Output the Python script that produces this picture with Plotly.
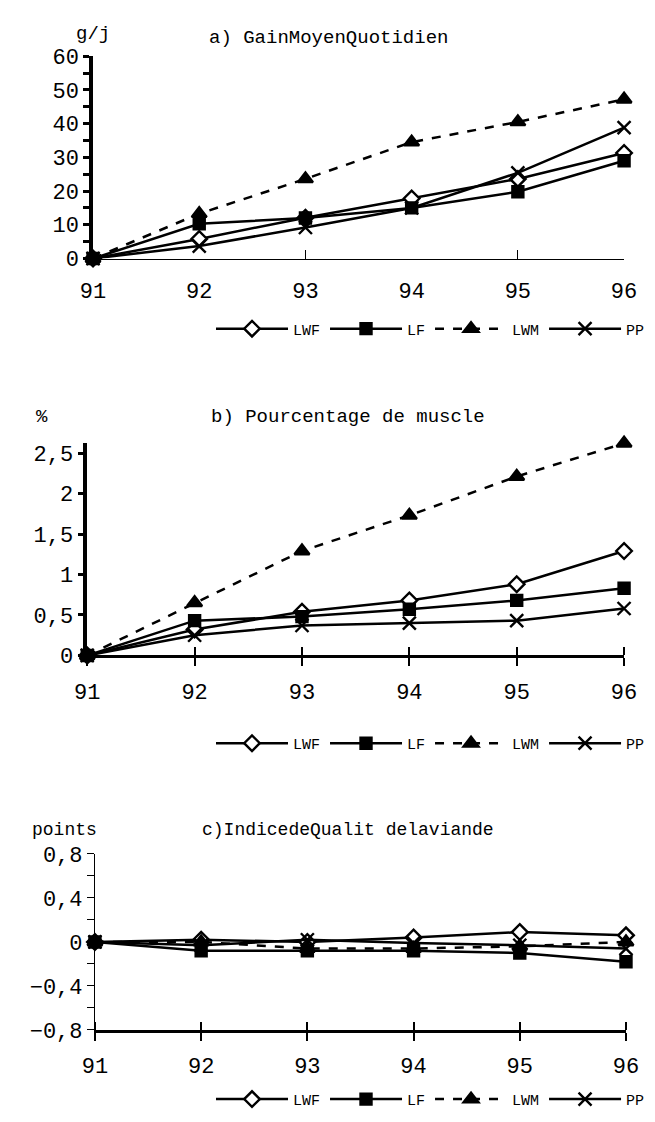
import plotly.graph_objects as go

# ---------------- data ----------------
years = [91, 92, 93, 94, 95, 96]
series_names = ["LWF", "LF", "LWM", "PP"]

gmq_LWF = [0, 5.8, 12.1, 17.8, 23.6, 31.3]
gmq_LF = [0, 10.3, 12.0, 15.0, 19.8, 29.0]
gmq_LWM = [0, 13.3, 23.6, 34.5, 40.5, 47.2]
gmq_PP = [0, 3.7, 9.2, 15.0, 25.4, 38.8]

muscle_LWF = [0, 0.32, 0.54, 0.68, 0.88, 1.29]
muscle_LF = [0, 0.43, 0.48, 0.57, 0.68, 0.83]
muscle_LWM = [0, 0.65, 1.29, 1.73, 2.21, 2.62]
muscle_PP = [0, 0.25, 0.37, 0.40, 0.43, 0.58]

iqv_LWF = [0, 0.02, 0.0, 0.04, 0.09, 0.06]
iqv_LF = [0, -0.08, -0.08, -0.08, -0.10, -0.18]
iqv_LWM = [0, 0.0, -0.06, -0.06, -0.04, 0.0]
iqv_PP = [0, -0.03, 0.02, -0.01, -0.03, -0.06]

titles = ["a) GainMoyenQuotidien", "b) Pourcentage de muscle", "c)IndicedeQualit delaviande"]
units = ["g/j", "%", "points"]

# ---------------- layout helpers ----------------
W, H = 655, 1122
def px_x(p):
    return p / W
def px_y(p):
    return 1 - p / H

FONT_TICK = dict(family="Liberation Mono", size=22, color="black")
FONT_TITLE = dict(family="Liberation Mono", size=19, color="black")
FONT_LEG = dict(family="Liberation Mono", size=15, color="black")

styles = {
    "LWF": dict(symbol="diamond", color="white", size=12, dash="solid"),
    "LF": dict(symbol="square", color="black", size=11, dash="solid"),
    "LWM": dict(symbol="triangle-up", color="black", size=13, dash="dash"),
    "PP": dict(symbol="x-thin-open", color="black", size=13, dash="solid"),
}

panels = [
    ([gmq_LWF, gmq_LF, gmq_LWM, gmq_PP], "", "legend"),
    ([muscle_LWF, muscle_LF, muscle_LWM, muscle_PP], "2", "legend2"),
    ([iqv_LWF, iqv_LF, iqv_LWM, iqv_PP], "3", "legend3"),
]

fig = go.Figure()
for vals_list, ax, leg in panels:
    for name, vals in zip(series_names, vals_list):
        st = styles[name]
        fig.add_trace(go.Scatter(
            x=years, y=vals, name=name, mode="lines+markers",
            xaxis="x" + ax, yaxis="y" + ax, legend=leg,
            line=dict(color="black", width=2.5, dash=st["dash"]),
            marker=dict(symbol=st["symbol"], size=st["size"], color=st["color"],
                        line=dict(color="black", width=2.4)),
            cliponaxis=False,
        ))

common_x = dict(type="linear", range=[91, 96], tickvals=years, showgrid=False, zeroline=False,
                tickfont=FONT_TICK, color="black", showline=True, linecolor="black")
common_y = dict(showgrid=False, zeroline=False, tickfont=FONT_TICK, showline=True,
                linecolor="black", color="black")

fig.update_layout(
    width=W, height=H, margin=dict(l=0, r=0, t=0, b=0),
    paper_bgcolor="white", plot_bgcolor="white",
    separators=", ",
    showlegend=True,
    xaxis=dict(common_x, domain=[px_x(75), px_x(628)], anchor="y", linewidth=1,
               ticks="", minor=dict(tickvals=[93, 95], ticks="inside", ticklen=9, tickwidth=1,
                                    tickcolor="black"), ticklabelstandoff=12),
    yaxis=dict(common_y, domain=[px_y(246), px_y(39)], anchor="x", range=[0, 60], dtick=10,
               linewidth=3.5, ticks="outside", ticklen=6, tickwidth=3,
               minor=dict(dtick=5, ticks="outside", ticklen=6, tickwidth=3, tickcolor="black")),
    xaxis2=dict(common_x, domain=[px_x(69), px_x(628)], anchor="y2", linewidth=3,
                ticks="outside", ticklen=8, tickwidth=2,
                minor=dict(tickvals=years, ticks="inside", ticklen=8, tickwidth=2, tickcolor="black"),
                ticklabelstandoff=6),
    yaxis2=dict(common_y, domain=[px_y(652), px_y(435)], anchor="x2", range=[0, 2.62],
                tickvals=[0, 0.5, 1, 1.5, 2, 2.5],
                linewidth=3.5, ticks="outside", ticklen=6, tickwidth=3),
    xaxis3=dict(common_x, domain=[px_x(77), px_x(630)], anchor="y3", linewidth=3,
                ticks="outside", ticklen=8, tickwidth=2,
                minor=dict(tickvals=years, ticks="inside", ticklen=8, tickwidth=2, tickcolor="black"),
                ticklabelstandoff=6),
    yaxis3=dict(common_y, domain=[px_y(1035), px_y(855)], anchor="x3", range=[-0.8, 0.8], dtick=0.4,
                linewidth=1, ticks="outside", ticklen=7, tickwidth=1,
                minor=dict(dtick=0.2, ticks="outside", ticklen=7, tickwidth=1, tickcolor="black")),
)

leg_common = dict(orientation="h", font=FONT_LEG, bgcolor="rgba(0,0,0,0)", itemwidth=72,
                  xanchor="right", x=1.0, yanchor="middle", traceorder="normal",
                  itemclick=False, itemdoubleclick=False, tracegroupgap=0)
fig.update_layout(
    legend=dict(leg_common, y=px_y(318)),
    legend2=dict(leg_common, y=px_y(742)),
    legend3=dict(leg_common, y=px_y(1106)),
)

ann = []
title_y = [20, 408, 830]
unit_x = [75, 22, 45]
unit_y = [16, 408, 830]
title_x = [320, 340, 340]
title_size = [19, 19, 18]
for t, u, ty, ux, uy, tx, ts in zip(titles, units, title_y, unit_x, unit_y, title_x, title_size):
    ann.append(dict(text=t, x=px_x(tx), y=px_y(ty), xref="paper", yref="paper", showarrow=False,
                    font=dict(FONT_TITLE, size=ts), xanchor="center", yanchor="middle"))
    ann.append(dict(text=u, x=px_x(ux), y=px_y(uy), xref="paper", yref="paper", showarrow=False,
                    font=dict(FONT_TITLE, size=ts), xanchor="center", yanchor="middle"))
fig.update_layout(annotations=ann)

fig.write_html("out.html")
